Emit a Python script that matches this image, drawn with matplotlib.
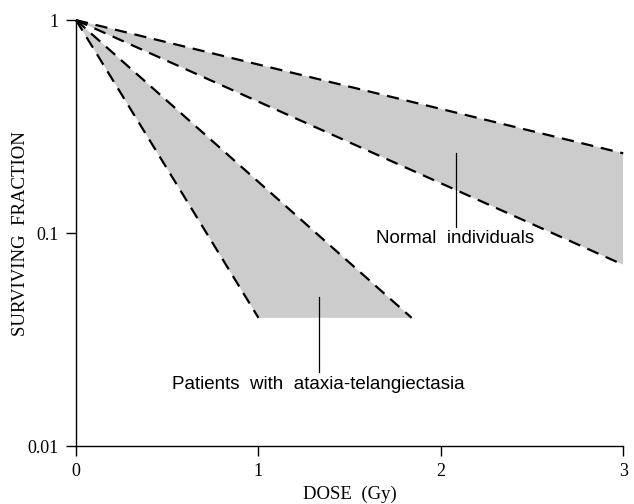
import matplotlib
matplotlib.use("Agg")
import matplotlib.pyplot as plt

# Data (dose in Gy, surviving fraction)
normal_upper_dose = [0, 3]
normal_upper_sf = [1.0, 0.237]
normal_lower_dose = [0, 3]
normal_lower_sf = [1.0, 0.071]

at_steep_dose = [0, 1.0]
at_steep_sf = [1.0, 0.04]
at_shallow_dose = [0, 1.84]
at_shallow_sf = [1.0, 0.04]

x_ticks = [0, 1, 2, 3]
x_ticklabels = ["0", "1", "2", "3"]
y_ticks = [0.01, 0.1, 1]
y_ticklabels = ["0.01", "0.1", "1"]

fig = plt.figure(figsize=(6.34, 5.04), dpi=100)
ax = fig.add_axes([0.12, 0.115, 0.863, 0.845])
ax.set_yscale("log")
ax.set_xlim(0, 3)
ax.set_ylim(0.01, 1)

grey = "#cccccc"
# Normal region
ax.fill(normal_upper_dose + normal_lower_dose[::-1],
        normal_upper_sf + normal_lower_sf[::-1], color=grey, lw=0)
# AT region
ax.fill([at_steep_dose[0], at_steep_dose[1], at_shallow_dose[1]],
        [at_steep_sf[0], at_steep_sf[1], at_shallow_sf[1]], color=grey, lw=0)

dash = dict(color="black", lw=1.6, dashes=(5.5, 3.5), clip_on=False)
ax.plot(normal_upper_dose, normal_upper_sf, **dash)
ax.plot(normal_lower_dose, normal_lower_sf, **dash)
ax.plot(at_steep_dose, at_steep_sf, **dash)
ax.plot(at_shallow_dose, at_shallow_sf, **dash)

# Leader lines and labels
ax.plot([2.085, 2.085], [0.1067, 0.2375], color="black", lw=0.9)
ax.text(2.08, 0.0898, "Normal  individuals", ha="center", va="baseline",
        family="Liberation Sans", fontsize=13.5)
ax.plot([1.333, 1.333], [0.0223, 0.0501], color="black", lw=0.9)
ax.text(1.327, 0.0185, "Patients  with  ataxia-telangiectasia", ha="center",
        va="baseline", family="Liberation Sans", fontsize=13.5)

for s in ["top", "right"]:
    ax.spines[s].set_visible(False)
for s in ["left", "bottom"]:
    ax.spines[s].set_linewidth(1.0)

ax.set_xticks(x_ticks)
ax.set_xticklabels(x_ticklabels, family="Liberation Serif", fontsize=13)
ax.set_yticks(y_ticks)
ax.set_yticklabels(y_ticklabels, family="Liberation Serif", fontsize=13)
ax.yaxis.set_minor_locator(matplotlib.ticker.NullLocator())
ax.tick_params(direction="out", length=7.5, width=1.0, pad=5)

ax.set_xlabel("DOSE  (Gy)", family="Liberation Serif", fontsize=13.5, labelpad=4)
ax.set_ylabel("SURVIVING  FRACTION", family="Liberation Serif", fontsize=13.5, labelpad=-1)

fig.savefig("out.png", dpi=100)
